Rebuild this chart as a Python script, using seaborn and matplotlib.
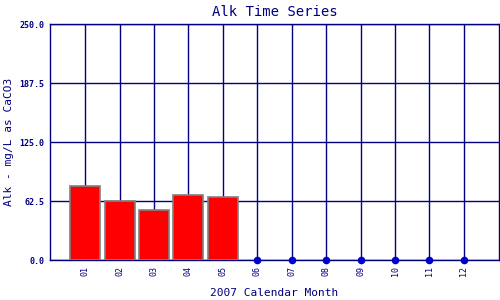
import numpy as np
import pandas as pd
import matplotlib
matplotlib.use("Agg")
import matplotlib.pyplot as plt
import seaborn as sns

months = ["01", "02", "03", "04", "05", "06", "07", "08", "09", "10", "11", "12"]
alk_values = [78.5, 62.0, 53.5, 69.0, 66.5, np.nan, np.nan, np.nan, np.nan, np.nan, np.nan, np.nan]
missing_months = ["06", "07", "08", "09", "10", "11", "12"]
missing_values = [0, 0, 0, 0, 0, 0, 0]
y_ticks = [0.0, 62.5, 125.0, 187.5, 250.0]

navy = "#000080"
sns.set_style("white")
plt.rcParams["font.family"] = ["DejaVu Sans Mono", "DejaVu Sans"]

fig = plt.figure(figsize=(5, 3), dpi=100)
ax = fig.add_axes([0.1, 0.1333, 0.898, 0.7867])

df = pd.DataFrame({"month": months, "alk": alk_values})
sns.barplot(data=df, x="month", y="alk", order=months, errorbar=None,
            color="#FF0000", edgecolor="#808080", linewidth=1.2, width=0.87,
            saturation=1, ax=ax, zorder=3)
for p in ax.patches:
    p.set_facecolor("#FF0000")

dm = pd.DataFrame({"month": missing_months, "alk": missing_values})
sns.stripplot(data=dm, x="month", y="alk", order=months, jitter=False,
              color="#0000CC", size=5.5, ax=ax, zorder=5, clip_on=False)
for c in ax.collections:
    c.set_clip_on(False)

ax.set_xlim(-1.02, 12.02)
ax.set_ylim(0, 250)
ax.set_yticks(y_ticks)
ax.set_yticklabels([f"{v:.1f}" for v in y_ticks], fontsize=6, color=navy, fontweight="bold")
ax.set_xticks(range(len(months)))
ax.set_xticklabels(months, rotation=90, fontsize=6, color=navy)
ax.tick_params(axis="both", length=0, pad=4)
ax.set_axisbelow(True)
ax.grid(True, color=navy, linewidth=1.0)
for s in ax.spines.values():
    s.set_color(navy)
    s.set_linewidth(1.0)
    s.set_visible(True)

ax.set_title("Alk Time Series", fontsize=10, color=navy, pad=6)
ax.set_xlabel("2007 Calendar Month", fontsize=8, color=navy, labelpad=9)
ax.set_ylabel("Alk - mg/L as CaCO3", fontsize=8, color=navy, labelpad=4)

fig.savefig("out.png", dpi=100)
